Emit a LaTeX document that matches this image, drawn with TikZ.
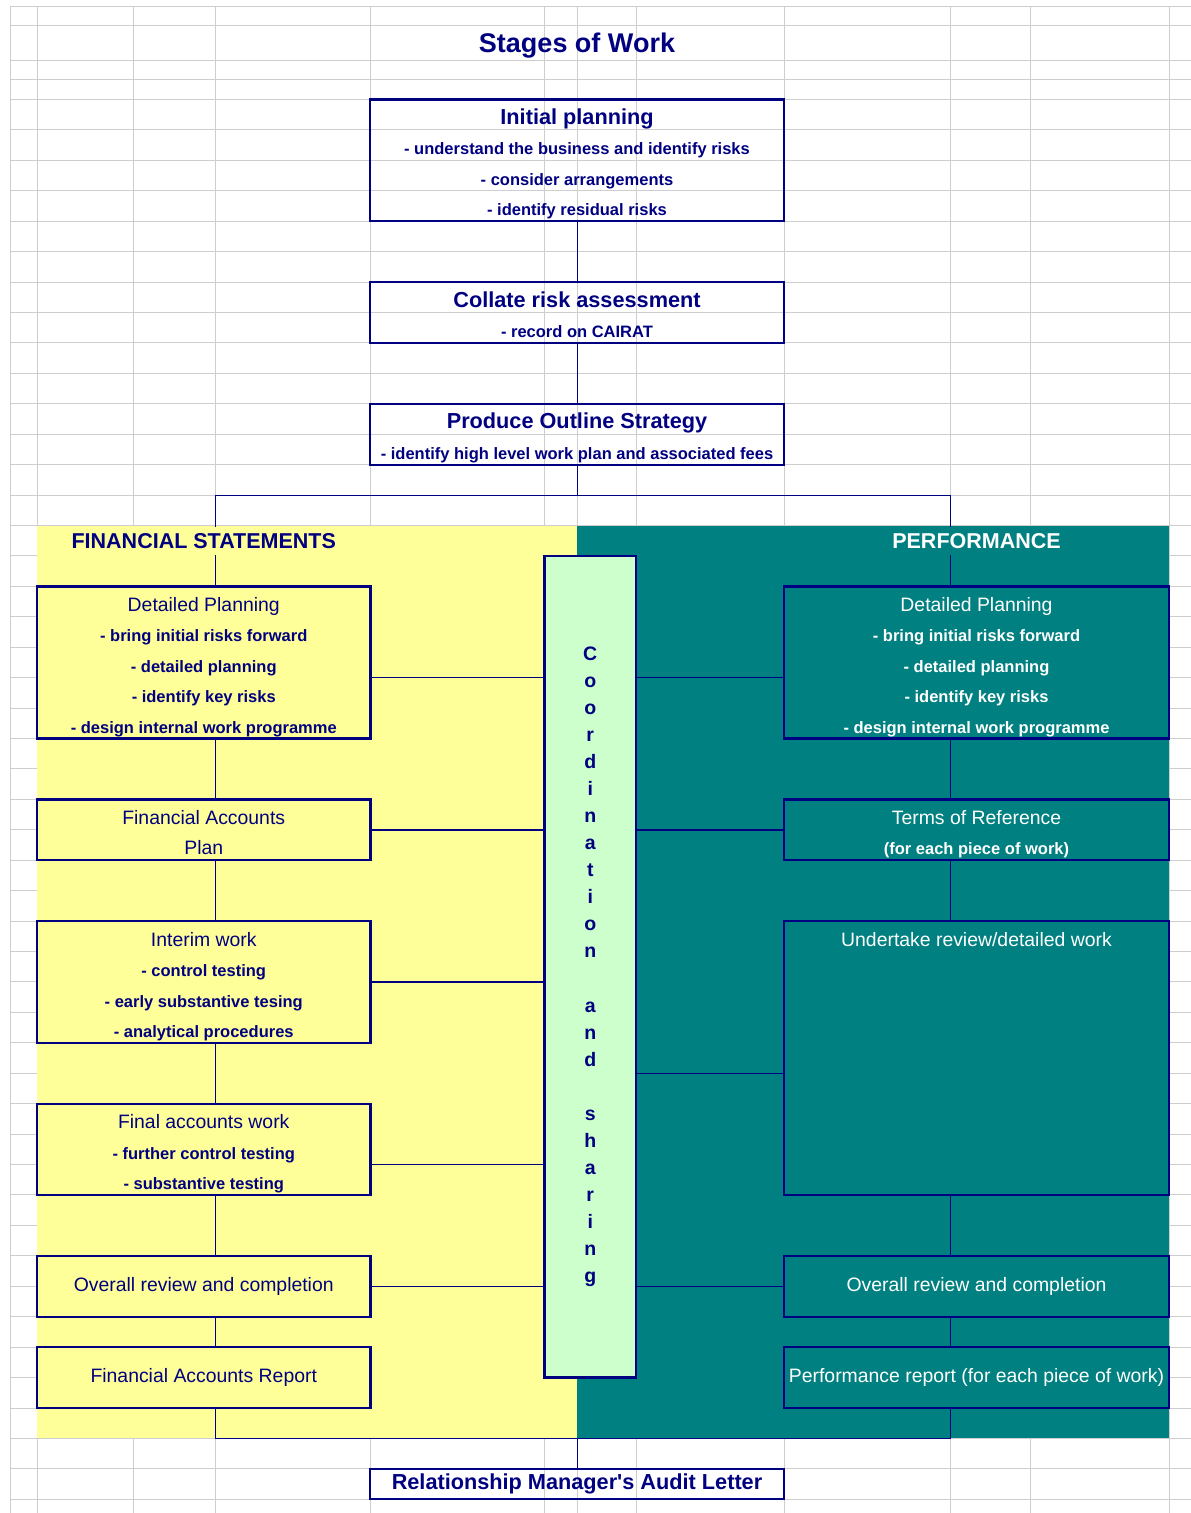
\documentclass[tikz,border=0pt]{standalone}
\usepackage{fontspec}
\setmainfont{Liberation Sans}
\usepackage{tikz}
\usetikzlibrary{positioning}
\definecolor{xlnavy}{RGB}{0,0,128}
\definecolor{xlyellow}{RGB}{255,255,153}
\definecolor{xlteal}{RGB}{0,128,128}
\definecolor{xlmint}{RGB}{204,255,204}
\definecolor{xlgrid}{RGB}{206,206,206}
\newcommand\boxhead[1]{{\fontsize{21.7}{30.43}\selectfont #1}}
\newcommand\boxname[1]{{\fontsize{19.4}{30.43}\selectfont\mdseries #1}}

\begin{document}
\begin{tikzpicture}[
  x=1pt, y=-1pt,
  gridline/.style={draw=xlgrid, line width=1pt},
  box/.style={draw=xlnavy, line width=2.2pt, inner sep=0pt, outer sep=0pt, align=center,
              font=\fontsize{16.5}{30.43}\selectfont\bfseries},
  topbox/.style={box, minimum width=413.5pt, text=xlnavy},
  fsbox/.style={box, fill=xlyellow, minimum width=333.5pt, text=xlnavy},
  pfbox/.style={box, fill=xlteal, minimum width=385pt, text=white},
  nrows/.style={minimum height=#1*30.43pt, text height=#1*30.43pt-5.43pt, text depth=5.43pt},
  hrows/.style={minimum height=#1*30.43pt},
  head/.style={minimum height=28.5pt, inner xsep=6pt, inner ysep=0pt,
               font=\fontsize{21.5}{30.43}\selectfont\bfseries},
  link/.style={draw=xlnavy, line width=1.3pt},
  spine/.style={draw=xlnavy, line width=1pt}
]
\useasboundingbox (0,0) rectangle (1191,1513);
\foreach \gx in {10.7,37,133.6,215,370.5,544.5,577,636,784,950,1030.5,1169}
  \draw[gridline] (\gx,6) -- (\gx,1513);
\foreach \gy in {6,25.3,60.3,79.7}
  \draw[gridline] (10.7,\gy) -- (1191,\gy);
\foreach \k in {0,...,46}
  \draw[gridline] (10.7,{99.5+30.43*\k}) -- (1191,{99.5+30.43*\k});

\fill[xlyellow] (37,525.5) rectangle (577,1438.4);
\fill[xlteal] (577,525.5) rectangle (1169,1438.4);

\node[font=\fontsize{27}{30.43}\selectfont\bfseries, text=xlnavy] (title) at (577,45.5) {Stages of Work};

\node[topbox, nrows=4, anchor=north] (init) at (577,99.5)
  {\boxhead{Initial planning}\\- understand the business and identify risks\\- consider arrangements\\- identify residual risks};
\node[topbox, nrows=2, below=60.86pt of init] (collate)
  {\boxhead{Collate risk assessment}\\- record on CAIRAT};
\node[topbox, nrows=2, below=60.86pt of collate] (strategy)
  {\boxhead{Produce Outline Strategy}\\- identify high level work plan and associated fees};

\coordinate (fork) at (577,495.1);
\coordinate (fsfork) at (215,495.1);
\coordinate (pfjoin) at (950,1438.4);
\coordinate (join) at (577,1438.4);
\draw[spine] (init) -- (collate);
\draw[spine] (collate) -- (strategy);
\draw[spine] (strategy) -- (fork);
\draw[spine] (fsfork) rectangle (pfjoin);

\node[fsbox, nrows=5, anchor=north] (fsplan) at (203.75,586.4)
  {\boxname{Detailed Planning}\\- bring initial risks forward\\- detailed planning\\- identify key risks\\- design internal work programme};
\node[fsbox, nrows=2, below=60.86pt of fsplan] (fsacc)
  {\boxname{Financial Accounts}\\\boxname{Plan}};
\node[fsbox, nrows=4, below=60.86pt of fsacc] (interim)
  {\boxname{Interim work}\\- control testing\\- early substantive tesing\\- analytical procedures};
\node[fsbox, nrows=3, below=60.86pt of interim] (final)
  {\boxname{Final accounts work}\\- further control testing\\- substantive testing};
\node[fsbox, hrows=2, below=60.86pt of final] (fsreview) {\boxname{Overall review and completion}};
\node[fsbox, hrows=2, below=30.43pt of fsreview] (fsreport) {\boxname{Financial Accounts Report}};

\node[pfbox, nrows=5, anchor=north] (pfplan) at (976.5,586.4)
  {\boxname{Detailed Planning}\\- bring initial risks forward\\- detailed planning\\- identify key risks\\- design internal work programme};
\node[pfbox, nrows=2, below=60.86pt of pfplan] (terms)
  {\boxname{Terms of Reference}\\(for each piece of work)};
\node[pfbox, hrows=9, text height=25pt, text depth=248.87pt, below=60.86pt of terms] (undertake)
  {\boxname{Undertake review/detailed work}};
\node[pfbox, hrows=2, below=60.86pt of undertake] (pfreview) {\boxname{Overall review and completion}};
\node[pfbox, hrows=2, below=30.43pt of pfreview] (pfreport) {\boxname{Performance report (for each piece of work)}};

\node[draw=xlnavy, line width=2.2pt, fill=xlmint, minimum width=91.5pt, minimum height=821.6pt,
      inner sep=0pt, align=center, text=xlnavy, font=\fontsize{19.5}{27.04}\selectfont\bfseries]
  (coord) at (590.25,966.75)
  {C\\o\\o\\r\\d\\i\\n\\a\\t\\i\\o\\n\\~\\a\\n\\d\\~\\s\\h\\a\\r\\i\\n\\g};

\node[head, fill=xlyellow, text=xlnavy] (fshead) at (203.75,541.2) {FINANCIAL STATEMENTS};
\node[head, fill=xlteal, text=white] (pfhead) at (976.5,541.2) {PERFORMANCE};

\coordinate (fsplanlink) at ([yshift=-15.2pt]fsplan.east);
\coordinate (finallink) at ([yshift=-15.2pt]final.east);
\coordinate (pfplanlink) at ([yshift=-15.2pt]pfplan.west);
\coordinate (undertakelink) at ([yshift=-15.2pt]undertake.west);
\draw[link] (fsplanlink) -- (fsplanlink -| coord.west);
\draw[link] (fsacc.east) -- (fsacc.east -| coord.west);
\draw[link] (interim.east) -- (interim.east -| coord.west);
\draw[link] (finallink) -- (finallink -| coord.west);
\draw[link] (fsreview.east) -- (fsreview.east -| coord.west);
\draw[link] (pfplanlink) -- (pfplanlink -| coord.east);
\draw[link] (terms.west) -- (terms.west -| coord.east);
\draw[link] (undertakelink) -- (undertakelink -| coord.east);
\draw[link] (pfreview.west) -- (pfreview.west -| coord.east);

\node[topbox, hrows=1, font=\fontsize{21.7}{30.43}\selectfont\bfseries] (letter) at (577,1484.07)
  {Relationship Manager\textquotesingle s Audit Letter};
\draw[spine] (join) -- (letter.north);
\end{tikzpicture}
\end{document}
